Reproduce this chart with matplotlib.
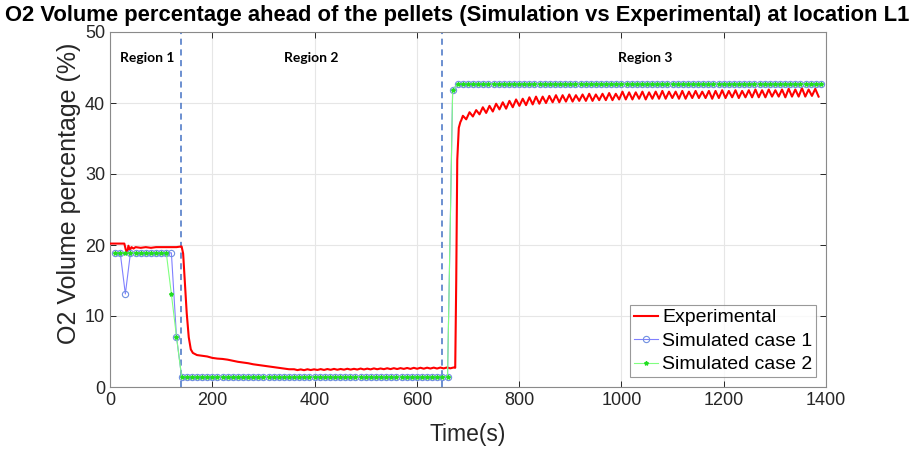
import numpy as np
import matplotlib
matplotlib.use("Agg")
import matplotlib.pyplot as plt

plt.rcParams['font.family'] = ['Liberation Sans', 'DejaVu Sans']

# Experimental: region 1 and the drop into region 2
exp_time_a = [0, 10, 20, 28, 31, 34, 36, 39, 42, 46, 50, 60, 70, 80, 90, 100, 110, 120,
              130, 140, 143, 147, 150, 154, 158, 162, 170, 180, 190, 200, 210, 220,
              230, 240, 250, 260, 270, 280, 290, 300, 310, 320, 330, 340, 350]
exp_o2_a = [20.2, 20.2, 20.2, 20.2, 19.3, 19.0, 19.9, 19.3, 19.7, 19.5, 19.7, 19.6,
            19.7, 19.6, 19.7, 19.7, 19.7, 19.7, 19.7, 19.8, 18.8, 14.0, 10.4, 7.0,
            5.3, 4.8, 4.5, 4.4, 4.3, 4.1, 4.0, 3.95, 3.85, 3.7, 3.55, 3.45, 3.35,
            3.2, 3.1, 3.0, 2.9, 2.8, 2.7, 2.6, 2.5]

# Experimental: rest of region 2 (sampled every 6.5 s from 360 s)
exp_o2_b = [2.50, 2.38, 2.48, 2.37, 2.50, 2.39, 2.49, 2.40, 2.52, 2.40,
            2.53, 2.42, 2.55, 2.43, 2.54, 2.44, 2.57, 2.45, 2.56, 2.46,
            2.60, 2.47, 2.59, 2.48, 2.62, 2.50, 2.61, 2.51, 2.64, 2.52,
            2.65, 2.53, 2.66, 2.55, 2.68, 2.55, 2.70, 2.57, 2.71, 2.58,
            2.72, 2.60, 2.73, 2.60, 2.74, 2.62, 2.75, 2.63]

# Experimental: jump into region 3
exp_time_c = [672, 675, 677, 679, 682, 685, 687]
exp_o2_c = [2.75, 2.7, 15.0, 32.0, 36.5, 37.3, 37.6]

# Experimental: region 3 (sampled every 6.5 s from 690 s)
exp_o2_d = [38.2, 37.7, 38.7, 38.1, 39.0, 38.4, 39.4, 38.6, 39.6, 38.8,
            39.9, 39.1, 40.1, 39.2, 40.3, 39.4, 40.5, 39.6, 40.6, 39.7,
            40.8, 39.8, 40.9, 39.9, 40.9, 40.0, 41.0, 40.1, 41.1, 40.1,
            41.1, 40.2, 41.2, 40.2, 41.1, 40.3, 41.2, 40.3, 41.3, 40.3,
            41.2, 40.4, 41.3, 40.4, 41.4, 40.4, 41.3, 40.5, 41.6, 40.5,
            41.5, 40.5, 41.5, 40.6, 41.6, 40.5, 41.5, 40.6, 41.6, 40.6,
            41.7, 40.6, 41.6, 40.7, 41.6, 40.6, 41.7, 40.6, 41.6, 40.7,
            41.7, 40.7, 41.6, 40.7, 41.7, 40.6, 41.7, 40.7, 41.8, 40.7,
            41.7, 40.8, 41.8, 40.7, 41.7, 40.8, 41.8, 40.8, 41.9, 40.8,
            41.8, 40.8, 41.9, 40.9, 41.8, 40.9, 41.9, 40.8, 42.0, 40.9,
            41.9, 40.9, 42.1, 40.9, 41.9, 41.0, 42.0, 40.9]

exp_time = np.concatenate([exp_time_a,
                           360 + 6.5 * np.arange(len(exp_o2_b)),
                           exp_time_c,
                           690 + 6.5 * np.arange(len(exp_o2_d))])
exp_o2 = np.concatenate([exp_o2_a, exp_o2_b, exp_o2_c, exp_o2_d])

# Simulated cases, one value every 10 s from 10 s to 1390 s
sim_time = np.arange(10, 1391, 10)
sim_case1 = [18.9, 18.9, 13.1] + [18.9] * 9 + [7.1] + [1.45] * 53 + [41.9] + [42.7] * 72
sim_case2 = [18.9] * 11 + [13.1] + [7.1] + [1.45] * 53 + [41.9] + [42.7] * 72

region_bounds = [138, 650]
region_labels = ["Region 1", "Region 2", "Region 3"]
region_label_x = [72, 393, 1046]

fig = plt.figure(figsize=(9.14, 4.5), dpi=100)
ax = fig.add_axes([110 / 914, 1 - 387 / 450, 716 / 914, 355 / 450])

ax.plot(exp_time, exp_o2, color='red', linewidth=1.5, label='Experimental', zorder=3)
ax.plot(sim_time, sim_case1, color='#8080ff', linewidth=0.8, marker='o', markersize=4.5,
        markerfacecolor='none', markeredgecolor='#7090e0', markeredgewidth=0.8,
        label='Simulated case 1', zorder=4)
ax.plot(sim_time, sim_case2, color='#80ff80', linewidth=0.8, marker='*', markersize=3,
        markeredgecolor='#22dd22', markerfacecolor='#22dd22', label='Simulated case 2', zorder=5)

for xb in region_bounds:
    ax.axvline(xb, color='#4472c4', linestyle=(0, (4, 3)), linewidth=1.1, zorder=2)
for lab, xl in zip(region_labels, region_label_x):
    ax.text(xl, 46.3, lab, ha='center', va='center', fontsize=10, fontweight='bold',
            family=['Lato', 'DejaVu Sans'])

ax.set_xlim(0, 1400)
ax.set_ylim(0, 50)
ax.set_xticks(range(0, 1401, 200))
ax.set_yticks(range(0, 51, 10))
ax.grid(True, color='#e6e6e6', linewidth=0.8)
ax.set_axisbelow(True)
ax.tick_params(direction='in', top=True, right=True, labelsize=13, colors='#262626',
               length=4, width=0.7)
for s in ax.spines.values():
    s.set_color('#8a8a8a')
    s.set_linewidth(0.8)

ax.set_xlabel('Time(s)', fontsize=16.5, color='#262626', labelpad=10)
ax.set_ylabel('O2 Volume percentage (%)', fontsize=18, color='#262626')
ax.yaxis.set_label_coords(-0.040, 0.545)
fig.text(0.5, 0.966, 'O2 Volume percentage ahead of the pellets (Simulation vs Experimental) at location L1',
         ha='center', va='center', fontsize=15.8, fontweight='bold')

leg = ax.legend(loc='lower right', fontsize=14, frameon=True, fancybox=False,
                handlelength=1.25, handletextpad=0.2, borderpad=0.2, labelspacing=0.3,
                borderaxespad=0.5)
leg.get_frame().set_edgecolor('#808080')
leg.get_frame().set_linewidth(0.8)

fig.savefig('out.png', dpi=100)
